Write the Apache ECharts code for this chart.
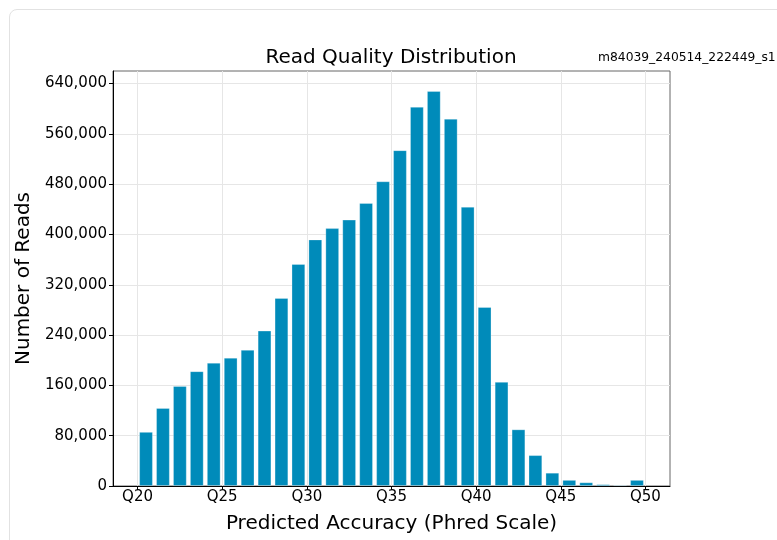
<!DOCTYPE html>
<html>
<head>
<meta charset="utf-8">
<script src="https://cdn.jsdelivr.net/npm/echarts@6/dist/echarts.min.js"></script>
<style>
  html, body { margin: 0; padding: 0; background: #fff; }
  .card {
    position: absolute; left: 9px; top: 9px; width: 820px; height: 600px;
    border: 1px solid #e2e2e2; border-radius: 8px;
  }
  #chart { position: absolute; left: 0; top: 0; width: 777px; height: 540px; }
</style>
</head>
<body>
<div class="card"></div>
<div id="chart"></div>
<script>
// bin start of each Q bucket (bar sits in the middle of the bucket)
const binStart = [20, 21, 22, 23, 24, 25, 26, 27, 28, 29,
                  30, 31, 32, 33, 34, 35, 36, 37, 38, 39,
                  40, 41, 42, 43, 44, 45, 46, 47, 48, 49];
const readCounts = [86000, 124000, 159000, 182500, 196000, 204000, 216500, 247000, 299000, 353000,
                    392000, 410000, 423500, 450000, 484500, 534000, 603000, 628000, 584000, 444000,
                    284500, 165500, 90000, 49000, 21000, 9600, 5800, 2700, 1600, 9600];
const xTicks = [20, 25, 30, 35, 40, 45, 50];
const yTicks = [0, 80000, 160000, 240000, 320000, 400000, 480000, 560000, 640000];

const font = "DejaVu Sans";
const chart = echarts.init(document.getElementById("chart"));

const option = {
  animation: false,
  textStyle: { fontFamily: font },
  title: [
    {
      text: "Read Quality Distribution",
      left: 386, top: 43, textAlign: "center",
      textStyle: { fontFamily: font, fontSize: 20, fontWeight: "normal", color: "#000" },
    },
    {
      text: "m84039_240514_222449_s1",
      left: 593, top: 47,
      textStyle: { fontFamily: font, fontSize: 12.3, fontWeight: "normal", color: "#000" },
    },
  ],
  grid: {
    left: 113, right: 107, top: 71, bottom: 54,
    show: true, borderColor: "#666", borderWidth: 1, backgroundColor: "transparent",
  },
  xAxis: {
    type: "value",
    min: 18.55, max: 51.45,
    name: "Predicted Accuracy (Phred Scale)",
    nameLocation: "middle", nameGap: 28,
    nameTextStyle: { fontFamily: font, fontSize: 20, color: "#000" },
    axisLine: { show: true, onZero: false, lineStyle: { color: "#000", width: 1 } },
    axisTick: { show: true, length: 4, customValues: xTicks, lineStyle: { color: "#000" } },
    axisLabel: {
      customValues: xTicks, fontSize: 15, color: "#000", margin: 4,
      formatter: (v) => "Q" + v,
    },
    splitLine: { show: true, lineStyle: { color: "#e6e6e6", width: 1 } },
  },
  yAxis: {
    type: "value",
    min: 0, max: 660000,
    name: "Number of Reads",
    nameLocation: "middle", nameGap: 78,
    nameTextStyle: { fontFamily: font, fontSize: 20, color: "#000" },
    axisLine: { show: true, lineStyle: { color: "#000", width: 1 } },
    axisTick: { show: true, length: 4, customValues: yTicks, lineStyle: { color: "#000" } },
    axisLabel: {
      customValues: yTicks, fontSize: 15, color: "#000", margin: 6,
      formatter: (v) => v.toLocaleString("en-US"),
    },
    splitLine: { show: true, lineStyle: { color: "#e6e6e6", width: 1 } },
  },
  series: [
    {
      type: "bar",
      barWidth: 13.6,
      data: binStart.map((q, i) => [q + 0.5, readCounts[i]]),
      itemStyle: { color: "#008bba", borderColor: "rgba(255,255,255,0.35)", borderWidth: 0.8 },
    },
  ],
};

chart.setOption(option);
</script>
</body>
</html>
